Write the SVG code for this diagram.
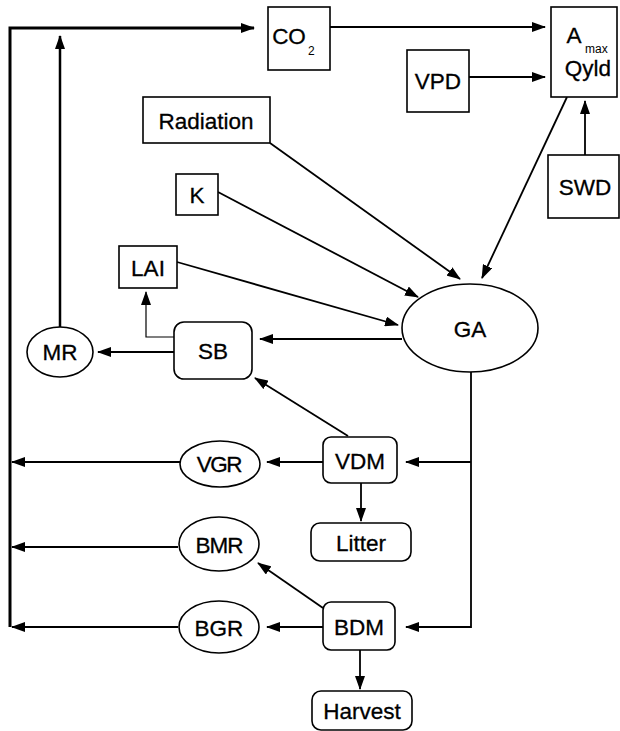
<svg xmlns="http://www.w3.org/2000/svg" width="620" height="731" viewBox="0 0 620 731">
<defs>
<marker id="ah" markerUnits="userSpaceOnUse" markerWidth="14" markerHeight="10" refX="13" refY="5" orient="auto"><path d="M0,0 L14,5 L0,10 z" fill="#000"/></marker>
<style>
.n{fill:#fff;stroke:#000;stroke-width:1.6}
.t{font-family:"Liberation Sans",Arial,sans-serif;font-size:22.5px;fill:#000;text-anchor:middle;stroke:#000;stroke-width:0.3}
.s{font-family:"Liberation Sans",Arial,sans-serif;font-size:12px;fill:#000}
.c{fill:none;stroke:#000;stroke-width:1.8}
.a{marker-end:url(#ah)}
</style>
</defs>
<rect width="620" height="731" fill="#fff"/>
<g id="connectors">
<polyline class="c a" points="10,627 10,28 254,28" style="stroke-width:3"/>
<line class="c a" x1="60" y1="327" x2="60" y2="36" style="stroke-width:2.5"/>
<line class="c a" x1="330" y1="27" x2="545" y2="27"/>
<line class="c a" x1="469" y1="77" x2="545" y2="77"/>
<line class="c a" x1="585" y1="155" x2="585" y2="101"/>
<line class="c a" x1="567" y1="97" x2="482" y2="278"/>
<line class="c a" x1="270" y1="143" x2="460" y2="279"/>
<line class="c a" x1="218" y1="192" x2="418" y2="297"/>
<line class="c a" x1="177" y1="262" x2="398" y2="325"/>
<line class="c a" x1="402" y1="339" x2="260" y2="339"/>
<line class="c a" x1="174" y1="352" x2="98" y2="352"/>
<polyline class="c a" points="174,337 146,337 146,292" style="stroke-width:1.2"/>
<line class="c a" x1="348" y1="436" x2="255" y2="378"/>
<polyline class="c a" points="471,372 471,627 406,627"/>
<polyline class="c a" points="471,462 406,462"/>
<line class="c a" x1="323" y1="462" x2="267" y2="462"/>
<line class="c a" x1="180" y1="462" x2="12" y2="462"/>
<line class="c a" x1="361" y1="483" x2="361" y2="521"/>
<line class="c a" x1="323" y1="608" x2="258" y2="563"/>
<line class="c a" x1="178" y1="547" x2="12" y2="547"/>
<line class="c a" x1="323" y1="627" x2="267" y2="627"/>
<line class="c a" x1="178" y1="627" x2="12" y2="627"/>
<line class="c a" x1="360" y1="650" x2="360" y2="689"/>
</g>
<g id="co2"><rect class="n" x="268" y="7" width="62" height="63"/><text class="t" x="289" y="44">CO</text><text class="s" x="308" y="55">2</text></g>
<g id="amax"><rect class="n" x="551" y="7" width="66" height="90"/><text class="t" x="574" y="43">A</text><text class="s" x="585" y="53">max</text><text class="t" x="588" y="76">Qyld</text></g>
<g id="vpd"><rect class="n" x="407" y="50" width="62" height="62"/><text class="t" x="438" y="89">VPD</text></g>
<g id="swd"><rect class="n" x="548" y="155" width="71" height="63"/><text class="t" x="585" y="195">SWD</text></g>
<g id="radiation"><rect class="n" x="143" y="97" width="127" height="46"/><text class="t" x="206" y="129">Radiation</text></g>
<g id="k"><rect class="n" x="176" y="174" width="42" height="41"/><text class="t" x="197" y="203">K</text></g>
<g id="lai"><rect class="n" x="119" y="246" width="58" height="42"/><text class="t" x="148" y="276">LAI</text></g>
<g id="ga"><ellipse class="n" cx="470" cy="328" rx="68" ry="44"/><text class="t" x="470" y="337">GA</text></g>
<g id="sb"><rect class="n" x="174" y="322" width="78" height="57" rx="10"/><text class="t" x="213" y="359">SB</text></g>
<g id="mr"><ellipse class="n" cx="60" cy="352" rx="33" ry="25"/><text class="t" x="60" y="360">MR</text></g>
<g id="vdm"><rect class="n" x="323" y="437" width="74" height="46" rx="8"/><text class="t" x="360" y="469">VDM</text></g>
<g id="litter"><rect class="n" x="311" y="523" width="100" height="38" rx="9"/><text class="t" x="361" y="551">Litter</text></g>
<g id="vgr"><ellipse class="n" cx="220" cy="464" rx="40" ry="23"/><text class="t" x="219" y="472" style="letter-spacing:-1.5px">VGR</text></g>
<g id="bmr"><ellipse class="n" cx="219" cy="544" rx="40" ry="27"/><text class="t" x="219" y="553" style="letter-spacing:-1px">BMR</text></g>
<g id="bdm"><rect class="n" x="323" y="602" width="72" height="48" rx="8"/><text class="t" x="359" y="635">BDM</text></g>
<g id="bgr"><ellipse class="n" cx="219" cy="627" rx="40" ry="26"/><text class="t" x="219" y="636">BGR</text></g>
<g id="harvest"><rect class="n" x="312" y="691" width="100" height="39" rx="9"/><text class="t" x="362" y="719">Harvest</text></g>
</svg>
